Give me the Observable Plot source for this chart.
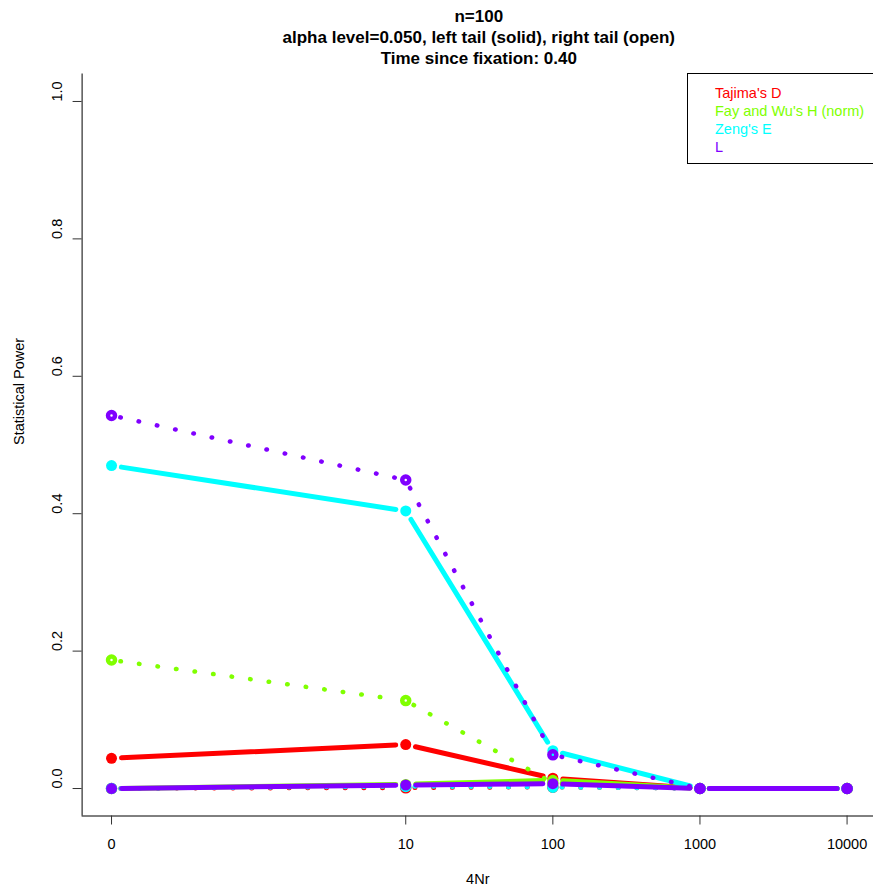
<!DOCTYPE html>
<html>
<head>
<meta charset="utf-8">
<script src="https://cdn.jsdelivr.net/npm/d3@7"></script>
<script src="https://cdn.jsdelivr.net/npm/@observablehq/plot@0.6"></script>
<style>
  html, body { margin: 0; padding: 0; background: white; overflow: hidden; }
  body { width: 873px; height: 887px; position: relative; font-family: "Liberation Sans", Arial, Helvetica, sans-serif; }
  #title { position: absolute; left: 81.6px; width: 794.4px; top: 0; height: 68px; text-align: center;
           font-weight: bold; font-size: 17px; line-height: 21px; padding-top: 5.5px; box-sizing: border-box; color: #000; }
  #chart { position: absolute; left: 0; top: 68px; }
  #legend { position: absolute; left: 687px; top: 73px; width: 250px; height: 91px; border: 1px solid #000;
            box-sizing: border-box; background: white; padding-top: 9.5px; padding-left: 27px; font-size: 14.5px; line-height: 18.3px; }
</style>
</head>
<body>
<div id="title"></div>
<div id="chart"></div>
<div id="legend"></div>
<script>
// ---- data ----
const fourNr = [0, 10, 100, 1000, 10000];
const xTickLabels = ["0", "10", "100", "1000", "10000"];
const yTicks = [0, 0.2, 0.4, 0.6, 0.8, 1.0];
const statNames = ["Tajima's D", "Fay and Wu's H (norm)", "Zeng's E", "L"];
const statColors = ["#FF0000", "#80FF00", "#00FFFF", "#8000FF"];
const titleLines = ["n=100", "alpha level=0.050, left tail (solid), right tail (open)", "Time since fixation: 0.40"];
const xTitle = "4Nr";
const yTitle = "Statistical Power";

// left tail (solid) and right tail (open) power
const tajimaLeft  = [0.044, 0.064, 0.015, 0, 0];
const tajimaRight = [0, 0.001, 0.002, 0, 0];
const fayWuLeft   = [0, 0.006, 0.012, 0, 0];
const fayWuRight  = [0.187, 0.128, 0.008, 0, 0];
const zengLeft    = [0.470, 0.404, 0.055, 0, 0];
const zengRight   = [0, 0.003, 0.002, 0, 0];
const lLeft       = [0, 0.005, 0.007, 0, 0];
const lRight      = [0.543, 0.449, 0.049, 0, 0];

const leftSeries = [tajimaLeft, fayWuLeft, zengLeft, lLeft];
const rightSeries = [tajimaRight, fayWuRight, zengRight, lRight];

// x position: log10 of 4Nr, with 0 shown one decade below 1 (as 0.1)
const pos = v => Math.log10(v === 0 ? 0.1 : v);
const xTicks = fourNr.map(pos);

function rows(vals) { return vals.map((v, i) => ({x: pos(fourNr[i]), y: v})); }
function segs(vals) {
  const out = [];
  for (let i = 0; i < vals.length - 1; i++) out.push({x1: pos(fourNr[i]), y1: vals[i], x2: pos(fourNr[i + 1]), y2: vals[i + 1]});
  return out;
}

// ---- title & legend (HTML) ----
document.getElementById("title").innerHTML = titleLines.map(t => `<div>${t}</div>`).join("");
document.getElementById("legend").innerHTML = statNames.map((n, i) => `<div style="color:${statColors[i]}">${n}</div>`).join("");

// ---- chart ----
const marks = [];
statNames.forEach((name, k) => {
  const c = statColors[k];
  marks.push(Plot.arrow(segs(leftSeries[k]), {x1: "x1", y1: "y1", x2: "x2", y2: "y2", stroke: c, strokeWidth: 5,
    headLength: 0, insetStart: 10, insetEnd: 10, strokeLinecap: "round"}));
  marks.push(Plot.dot(rows(leftSeries[k]), {x: "x", y: "y", r: 5.5, fill: c, stroke: "none"}));
  marks.push(Plot.arrow(segs(rightSeries[k]), {x1: "x1", y1: "y1", x2: "x2", y2: "y2", stroke: c, strokeWidth: 4.5,
    headLength: 0, insetStart: 9, insetEnd: 9, strokeLinecap: "round", strokeDasharray: "0.5,18.2"}));
  marks.push(Plot.dot(rows(rightSeries[k]), {x: "x", y: "y", r: 3.5, fill: "none", stroke: c, strokeWidth: 4.5}));
});

const chart = Plot.plot({
  width: 873,
  height: 819,
  marginTop: 5.5,
  marginBottom: 71.5,
  marginLeft: 81.6,
  marginRight: 0,
  style: {fontFamily: "'Liberation Sans', Arial, Helvetica, sans-serif", fontSize: "14.5px", background: "white", overflow: "visible", color: "black"},
  x: {domain: [-1.2, 4.2], range: [81.6, 876], axis: null},
  y: {domain: [-0.04, 1.04], range: [747.5, 5.5], axis: null},
  marks: [
    ...marks,
    // axis lines (L-shaped box)
    Plot.ruleX([-1.2], {stroke: "black", strokeWidth: 1}),
    Plot.ruleY([-0.04], {stroke: "black", strokeWidth: 1}),
    // x axis ticks + labels
    Plot.axisX(xTicks, {anchor: "bottom", tickSize: 9, tickPadding: 14, label: null,
      tickFormat: (d) => xTickLabels[xTicks.indexOf(d)], fontSize: 14.5, stroke: "#333"}),
    // y axis ticks
    Plot.axisY(yTicks, {anchor: "left", tickSize: 9, tickFormat: () => "", label: null, stroke: "#333"}),
    // y tick labels (rotated)
    Plot.text(yTicks, {y: d => d, text: d => d.toFixed(1), frameAnchor: "left", dx: -25, rotate: -90, fontSize: 14.5, fill: "black"}),
    // axis titles
    Plot.text([xTitle], {text: d => d, frameAnchor: "bottom", dy: 68, fontSize: 14.5, fill: "black"}),
    Plot.text([yTitle], {text: d => d, frameAnchor: "left", dx: -63, rotate: -90, fontSize: 14.5, fill: "black"})
  ]
});
document.getElementById("chart").appendChild(chart);
</script>
</body>
</html>
